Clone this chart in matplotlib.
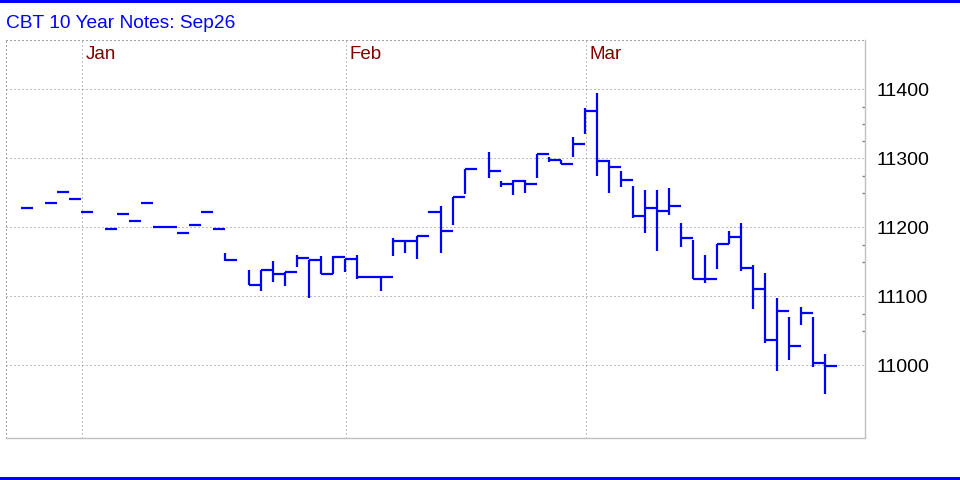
import numpy as np
import matplotlib
matplotlib.use("Agg")
import matplotlib.pyplot as plt
from matplotlib.patches import Rectangle

plt.rcParams['font.family'] = ['Liberation Sans', 'DejaVu Sans']

# Daily bars (slot index, high, low, close) - prices in ticks like 11228 = 112'28
slots = [0, 2, 3, 4, 5, 7, 8, 9, 10, 11, 12, 13, 14, 15, 16, 17,
         19, 20, 21, 22, 23, 24, 25, 26, 27, 28, 29, 30, 31, 32, 33, 34, 35, 36, 37,
         39, 40, 41, 42, 43, 44, 45, 46, 47, 48, 49, 50, 51, 52, 53, 54, 55, 56, 57,
         58, 59, 60, 61, 62, 63, 64, 65, 66, 67]
highs = [11228, 11235, 11251, 11241, 11222, 11197, 11219, 11209, 11235, 11200, 11200,
         11192, 11204, 11222, 11197, 11163,
         11138, 11138, 11151, 11135, 11160, 11153, 11158, 11158, 11154, 11160, 11128,
         11128, 11184, 11180, 11187, 11224, 11231, 11244, 11284,
         11309, 11267, 11268, 11268, 11306, 11302, 11297, 11331, 11373, 11395, 11297,
         11282, 11260, 11254, 11254, 11257, 11206, 11181, 11160,
         11176, 11194, 11206, 11145, 11134, 11097, 11070, 11085, 11070, 11016]
lows = [11228, 11235, 11251, 11241, 11222, 11197, 11219, 11209, 11235, 11200, 11200,
        11192, 11204, 11222, 11197, 11151,
        11117, 11108, 11121, 11115, 11143, 11097, 11133, 11132, 11135, 11125, 11128,
        11108, 11159, 11162, 11154, 11221, 11162, 11203, 11248,
        11272, 11259, 11247, 11250, 11272, 11294, 11291, 11302, 11335, 11275, 11250,
        11259, 11213, 11191, 11166, 11218, 11172, 11125, 11119,
        11140, 11176, 11136, 11081, 11033, 10991, 11008, 11059, 10998, 10959]
closes = [11228, 11235, 11251, 11241, 11222, 11197, 11219, 11209, 11235, 11200, 11200,
          11192, 11204, 11222, 11197, 11152,
          11117, 11138, 11133, 11135, 11155, 11152, 11133, 11157, 11154, 11128, 11128,
          11128, 11180, 11180, 11187, 11222, 11195, 11244, 11284,
          11282, 11263, 11267, 11263, 11306, 11297, 11291, 11320, 11368, 11296, 11288,
          11268, 11217, 11228, 11223, 11231, 11185, 11125, 11125,
          11176, 11186, 11141, 11110, 11037, 11078, 11028, 11076, 11004, 10999]

month_labels = ['Jan', 'Feb', 'Mar']
month_slots = [5, 27, 47]

price_ticks = [11000, 11100, 11200, 11300, 11400]
minor_ticks = [11050, 11075, 11150, 11175, 11250, 11275, 11325, 11350, 11375]

W, H = 960, 480
fig = plt.figure(figsize=(W / 100, H / 100), dpi=100)
ax = fig.add_axes([6 / W, (H - 438) / H, (865 - 6) / W, (438 - 40) / H])

x = np.array(slots)
ax.vlines(x, lows, highs, color='#0000ff', linewidth=1.6)
ax.hlines(closes, x, x + 1, color='#0000ff', linewidth=1.6)

ax.set_xlim(-1.25, 70.33)
ax.set_ylim(10894.6, 11471.4)

# grid
for p in price_ticks:
    ax.axhline(p, color='#808080', linewidth=0.72, linestyle=(0, (1, 3)), zorder=0)
for s in month_slots:
    ax.axvline(s + 0.08, color='#808080', linewidth=0.72, linestyle=(0, (1, 3)), zorder=0)
for lab, s in zip(month_labels, month_slots):
    ax.text(s + 0.4, 11463, lab, color='#800000', fontsize=13.5, va='top', ha='left')

for side in ['left', 'top']:
    ax.spines[side].set_color('#a0a0a0')
    ax.spines[side].set_linewidth(0.72)
    ax.spines[side].set_linestyle((0, (1, 3)))
for side in ['right', 'bottom']:
    ax.spines[side].set_color('#c0c0c0')
    ax.spines[side].set_linewidth(1)

ax.set_xticks([])
ax.yaxis.tick_right()
ax.set_yticks(price_ticks)
ax.set_yticklabels([str(p) for p in price_ticks])
ax.set_yticks(minor_ticks, minor=True)
ax.tick_params(axis='y', which='major', length=0, pad=8, labelsize=14, labelcolor='black')
ax.tick_params(axis='y', which='minor', length=2.5, direction='in', color='#808080', width=1)

fig.text(6 / W, 1 - 28 / H, 'CBT 10 Year Notes: Sep26', color='#0000ff', fontsize=13.8,
         ha='left', va='baseline')

# blue frame lines
fig.add_artist(Rectangle((0, 1 - 3 / H), 1, 3 / H, transform=fig.transFigure,
                         color='#0000ff', linewidth=0))
fig.add_artist(Rectangle((0, 0), 1, 3 / H, transform=fig.transFigure,
                         color='#0000ff', linewidth=0))

fig.savefig('out.png', dpi=100)
